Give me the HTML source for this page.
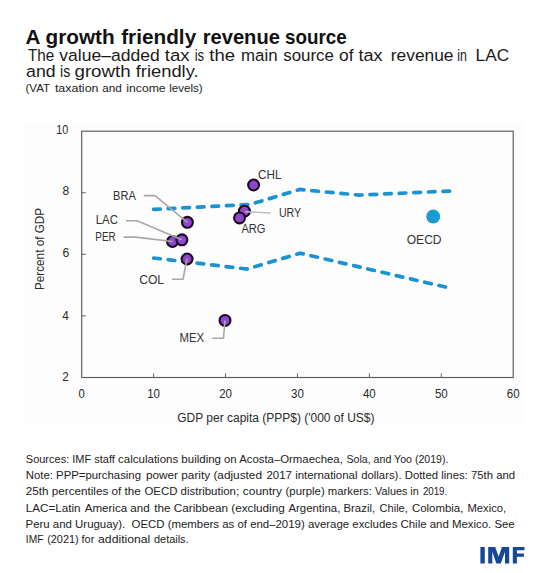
<!DOCTYPE html>
<html><head><meta charset="utf-8"><style>
html,body{margin:0;padding:0;background:#fff;}
body{width:550px;height:573px;overflow:hidden;position:relative;}
svg{position:absolute;left:0;top:0;}
text{font-family:"Liberation Sans", sans-serif;}
</style></head><body>
<svg width="550" height="573" viewBox="0 0 550 573">
<rect x="24" y="122" width="499" height="302" fill="#fdfdfd"/>
<rect x="81.7" y="131.2" width="431.5" height="246.3" fill="none" stroke="#5a5a5a" stroke-width="1.15"/>
<g stroke="#666" stroke-width="1">
<line x1="153.62" y1="377.5" x2="153.62" y2="373.3"/>
<line x1="225.54" y1="377.5" x2="225.54" y2="373.3"/>
<line x1="297.46" y1="377.5" x2="297.46" y2="373.3"/>
<line x1="369.38" y1="377.5" x2="369.38" y2="373.3"/>
<line x1="441.30" y1="377.5" x2="441.30" y2="373.3"/>
<line x1="81.7" y1="315.85" x2="85.9" y2="315.85"/>
<line x1="81.7" y1="254.30" x2="85.9" y2="254.30"/>
<line x1="81.7" y1="192.75" x2="85.9" y2="192.75"/>
</g>
<g fill="none" stroke="#1b93d2" stroke-width="3.7" stroke-dasharray="6.7 7.9" stroke-linecap="round">
<path d="M153.6,209.4 L250,204.5 L299.5,189.5 L359.3,195.1 L451,191"/>
<path d="M153.6,258 L247,269 L300.2,253.2 L446.5,287.3"/>
</g>
<circle cx="433.2" cy="216.6" r="7" fill="#1b9ad6"/>
<g fill="#9045cc" stroke="#1a0b24" stroke-width="2.1">
<circle cx="187.4" cy="222.3" r="5.45"/>
<circle cx="172.5" cy="241.5" r="5.45"/>
<circle cx="181.9" cy="239.8" r="5.45"/>
<circle cx="187.1" cy="259" r="5.45"/>
<circle cx="253.6" cy="185" r="5.45"/>
<circle cx="244.4" cy="211.2" r="5.45"/>
<circle cx="239.5" cy="217.9" r="5.45"/>
<circle cx="225" cy="320.4" r="5.45"/>
</g>
<g fill="none" stroke="#a8a8a8" stroke-width="1.6" stroke-linejoin="round">
<path d="M143.8,195.6 L155,195.6 L187.4,222.3"/>
<path d="M126,220.7 L137,220.7 L181.9,239.8"/>
<path d="M123.6,237.1 L135.5,237.1 L172.5,241.5"/>
<path d="M172,279.3 L183,279.3 L187,258.6"/>
<path d="M212.2,338.3 L223.5,338.3 L225,320.4"/>
<path d="M245.2,211.7 L270.6,213" stroke="#bbb" stroke-width="1.4"/>
</g>
<g fill="#17479a">
<rect x="480.4" y="547" width="4.4" height="16.5"/>
<path d="M488.2,547 L495.2,547 L498.6,556.6 L502,547 L509.2,547 L509.2,563.5 L505,563.5 L505,551.8 L500.8,563.5 L496.4,563.5 L492.3,551.8 L492.3,563.5 L488.2,563.5 Z"/>
<path d="M512.8,547 L524.5,547 L524.5,550.3 L516.9,550.3 L516.9,553.5 L523.9,553.5 L523.9,556.8 L516.9,556.8 L516.9,563.5 L512.8,563.5 Z"/>
</g>

<text id="title_0" x="25.50" y="43.60" font-size="21" fill="#111" font-weight="bold" textLength="14.90" lengthAdjust="spacingAndGlyphs">A</text>
<text id="title_1" x="45.50" y="43.60" font-size="21" fill="#111" font-weight="bold" textLength="69.10" lengthAdjust="spacingAndGlyphs">growth</text>
<text id="title_2" x="121.20" y="43.60" font-size="21" fill="#111" font-weight="bold" textLength="75.00" lengthAdjust="spacingAndGlyphs">friendly</text>
<text id="title_3" x="202.70" y="43.60" font-size="21" fill="#111" font-weight="bold" textLength="77.20" lengthAdjust="spacingAndGlyphs">revenue</text>
<text id="title_4" x="285.00" y="43.60" font-size="21" fill="#111" font-weight="bold" textLength="61.70" lengthAdjust="spacingAndGlyphs">source</text>
<text id="sub1_0" x="28.00" y="60.60" font-size="16.7" fill="#1a1a1a" textLength="26.20" lengthAdjust="spacingAndGlyphs">The</text>
<text id="sub1_1" x="59.30" y="60.60" font-size="16.7" fill="#1a1a1a" textLength="100.40" lengthAdjust="spacingAndGlyphs">value–added</text>
<text id="sub1_2" x="164.80" y="60.60" font-size="16.7" fill="#1a1a1a" textLength="24.80" lengthAdjust="spacingAndGlyphs">tax</text>
<text id="sub1_3" x="194.70" y="60.60" font-size="16.7" fill="#1a1a1a" textLength="9.50" lengthAdjust="spacingAndGlyphs">is</text>
<text id="sub1_4" x="209.30" y="60.60" font-size="16.7" fill="#1a1a1a" textLength="25.70" lengthAdjust="spacingAndGlyphs">the</text>
<text id="sub1_5" x="241.00" y="60.60" font-size="16.7" fill="#1a1a1a" textLength="36.50" lengthAdjust="spacingAndGlyphs">main</text>
<text id="sub1_6" x="283.20" y="60.60" font-size="16.7" fill="#1a1a1a" textLength="50.70" lengthAdjust="spacingAndGlyphs">source</text>
<text id="sub1_7" x="339.00" y="60.60" font-size="16.7" fill="#1a1a1a" textLength="14.50" lengthAdjust="spacingAndGlyphs">of</text>
<text id="sub1_8" x="358.60" y="60.60" font-size="16.7" fill="#1a1a1a" textLength="24.00" lengthAdjust="spacingAndGlyphs">tax</text>
<text id="sub1_9" x="390.80" y="60.60" font-size="16.7" fill="#1a1a1a" textLength="62.70" lengthAdjust="spacingAndGlyphs">revenue</text>
<text id="sub1_10" x="457.30" y="60.60" font-size="16.7" fill="#1a1a1a" textLength="9.60" lengthAdjust="spacingAndGlyphs">in</text>
<text id="sub1_11" x="475.60" y="60.60" font-size="16.7" fill="#1a1a1a" textLength="33.50" lengthAdjust="spacingAndGlyphs">LAC</text>
<text id="sub2_0" x="26.10" y="77.40" font-size="16.7" fill="#1a1a1a" textLength="29.50" lengthAdjust="spacingAndGlyphs">and</text>
<text id="sub2_1" x="60.00" y="77.40" font-size="16.7" fill="#1a1a1a" textLength="10.20" lengthAdjust="spacingAndGlyphs">is</text>
<text id="sub2_2" x="74.50" y="77.40" font-size="16.7" fill="#1a1a1a" textLength="56.10" lengthAdjust="spacingAndGlyphs">growth</text>
<text id="sub2_3" x="135.70" y="77.40" font-size="16.7" fill="#1a1a1a" textLength="62.90" lengthAdjust="spacingAndGlyphs">friendly.</text>
<text id="sub3_0" x="25.50" y="91.50" font-size="11.8" fill="#222" textLength="24.50" lengthAdjust="spacingAndGlyphs">(VAT</text>
<text id="sub3_1" x="54.90" y="91.50" font-size="11.8" fill="#222" textLength="43.60" lengthAdjust="spacingAndGlyphs">taxation</text>
<text id="sub3_2" x="102.30" y="91.50" font-size="11.8" fill="#222" textLength="19.60" lengthAdjust="spacingAndGlyphs">and</text>
<text id="sub3_3" x="126.30" y="91.50" font-size="11.8" fill="#222" textLength="39.30" lengthAdjust="spacingAndGlyphs">income</text>
<text id="sub3_4" x="169.30" y="91.50" font-size="11.8" fill="#222" textLength="33.40" lengthAdjust="spacingAndGlyphs">levels)</text>
<text id="yt10" x="56.20" y="133.80" font-size="13" fill="#2a2a2a" textLength="12.00" lengthAdjust="spacingAndGlyphs">10</text>
<text id="yt8" x="62.40" y="195.40" font-size="13" fill="#2a2a2a" textLength="6.70" lengthAdjust="spacingAndGlyphs">8</text>
<text id="yt6" x="62.50" y="257.10" font-size="13" fill="#2a2a2a" textLength="6.80" lengthAdjust="spacingAndGlyphs">6</text>
<text id="yt4" x="62.20" y="319.60" font-size="13" fill="#2a2a2a" textLength="6.60" lengthAdjust="spacingAndGlyphs">4</text>
<text id="yt2" x="62.20" y="380.80" font-size="13" fill="#2a2a2a" textLength="6.60" lengthAdjust="spacingAndGlyphs">2</text>
<text id="xt0" x="78.55" y="398.30" font-size="13" fill="#2a2a2a" textLength="6.30" lengthAdjust="spacingAndGlyphs">0</text>
<text id="xt10" x="147.22" y="398.30" font-size="13" fill="#2a2a2a" textLength="12.80" lengthAdjust="spacingAndGlyphs">10</text>
<text id="xt20" x="219.14" y="398.30" font-size="13" fill="#2a2a2a" textLength="12.80" lengthAdjust="spacingAndGlyphs">20</text>
<text id="xt30" x="291.06" y="398.30" font-size="13" fill="#2a2a2a" textLength="12.80" lengthAdjust="spacingAndGlyphs">30</text>
<text id="xt40" x="362.98" y="398.30" font-size="13" fill="#2a2a2a" textLength="12.80" lengthAdjust="spacingAndGlyphs">40</text>
<text id="xt50" x="434.90" y="398.30" font-size="13" fill="#2a2a2a" textLength="12.80" lengthAdjust="spacingAndGlyphs">50</text>
<text id="xt60" x="506.82" y="398.30" font-size="13" fill="#2a2a2a" textLength="12.80" lengthAdjust="spacingAndGlyphs">60</text>
<text id="xlab" x="177.30" y="421.80" font-size="12" fill="#2a2a2a" textLength="197.20" lengthAdjust="spacingAndGlyphs">GDP per capita (PPP$) ('000 of US$)</text>
<text id="ylab" x="-290.10" y="43.80" font-size="12" fill="#2a2a2a" textLength="82.30" lengthAdjust="spacingAndGlyphs" transform="rotate(-90)">Percent of GDP</text>
<text id="BRA" x="113.00" y="199.80" font-size="12" fill="#333" textLength="22.80" lengthAdjust="spacingAndGlyphs">BRA</text>
<text id="LAC" x="95.70" y="224.20" font-size="12" fill="#333" textLength="22.20" lengthAdjust="spacingAndGlyphs">LAC</text>
<text id="PER" x="95.30" y="240.70" font-size="12" fill="#333" textLength="20.40" lengthAdjust="spacingAndGlyphs">PER</text>
<text id="COL" x="139.20" y="283.50" font-size="12" fill="#333" textLength="24.90" lengthAdjust="spacingAndGlyphs">COL</text>
<text id="CHL" x="258.00" y="179.00" font-size="12" fill="#333" textLength="23.40" lengthAdjust="spacingAndGlyphs">CHL</text>
<text id="URY" x="278.90" y="217.20" font-size="12" fill="#333" textLength="22.30" lengthAdjust="spacingAndGlyphs">URY</text>
<text id="ARG" x="241.40" y="232.50" font-size="12" fill="#333" textLength="24.10" lengthAdjust="spacingAndGlyphs">ARG</text>
<text id="MEX" x="179.50" y="342.20" font-size="12" fill="#333" textLength="24.70" lengthAdjust="spacingAndGlyphs">MEX</text>
<text id="OECD" x="406.70" y="243.50" font-size="12" fill="#333" textLength="34.90" lengthAdjust="spacingAndGlyphs">OECD</text>
<text id="n1_0" x="25.80" y="463.30" font-size="11.8" fill="#222" textLength="89.00" lengthAdjust="spacingAndGlyphs">Sources: IMF staff</text>
<text id="n1_1" x="118.10" y="463.30" font-size="11.8" fill="#222" textLength="102.90" lengthAdjust="spacingAndGlyphs">calculations building</text>
<text id="n1_2" x="224.00" y="463.30" font-size="11.8" fill="#222" textLength="118.80" lengthAdjust="spacingAndGlyphs">on Acosta–Ormaechea,</text>
<text id="n1_3" x="346.50" y="463.30" font-size="11.8" fill="#222" textLength="102.00" lengthAdjust="spacingAndGlyphs">Sola, and Yoo (2019).</text>
<text id="n2_0" x="25.80" y="479.40" font-size="11.8" fill="#222" textLength="115.20" lengthAdjust="spacingAndGlyphs">Note: PPP=purchasing</text>
<text id="n2_1" x="145.90" y="479.40" font-size="11.8" fill="#222" textLength="116.10" lengthAdjust="spacingAndGlyphs">power parity (adjusted</text>
<text id="n2_2" x="266.50" y="479.40" font-size="11.8" fill="#222" textLength="91.00" lengthAdjust="spacingAndGlyphs">2017 international</text>
<text id="n2_3" x="361.20" y="479.40" font-size="11.8" fill="#222" textLength="153.90" lengthAdjust="spacingAndGlyphs">dollars). Dotted lines: 75th and</text>
<text id="n3_0" x="25.80" y="495.40" font-size="11.8" fill="#222" textLength="114.90" lengthAdjust="spacingAndGlyphs">25th percentiles of the</text>
<text id="n3_1" x="144.40" y="495.40" font-size="11.8" fill="#222" textLength="94.70" lengthAdjust="spacingAndGlyphs">OECD distribution;</text>
<text id="n3_2" x="242.80" y="495.40" font-size="11.8" fill="#222" textLength="39.20" lengthAdjust="spacingAndGlyphs">country</text>
<text id="n3_3" x="285.60" y="495.40" font-size="11.8" fill="#222" textLength="86.30" lengthAdjust="spacingAndGlyphs">(purple) markers:</text>
<text id="n3_4" x="375.10" y="495.40" font-size="11.8" fill="#222" textLength="43.70" lengthAdjust="spacingAndGlyphs">Values in</text>
<text id="n3_5" x="422.90" y="495.40" font-size="11.8" fill="#222" textLength="24.30" lengthAdjust="spacingAndGlyphs">2019.</text>
<text id="n4_0" x="25.80" y="511.60" font-size="11.8" fill="#222" textLength="54.80" lengthAdjust="spacingAndGlyphs">LAC=Latin</text>
<text id="n4_1" x="84.70" y="511.60" font-size="11.8" fill="#222" textLength="65.00" lengthAdjust="spacingAndGlyphs">America and</text>
<text id="n4_2" x="154.20" y="511.60" font-size="11.8" fill="#222" textLength="130.60" lengthAdjust="spacingAndGlyphs">the Caribbean (excluding</text>
<text id="n4_3" x="288.50" y="511.60" font-size="11.8" fill="#222" textLength="86.60" lengthAdjust="spacingAndGlyphs">Argentina, Brazil,</text>
<text id="n4_4" x="379.60" y="511.60" font-size="11.8" fill="#222" textLength="28.20" lengthAdjust="spacingAndGlyphs">Chile,</text>
<text id="n4_5" x="411.90" y="511.60" font-size="11.8" fill="#222" textLength="51.50" lengthAdjust="spacingAndGlyphs">Colombia,</text>
<text id="n4_6" x="467.50" y="511.60" font-size="11.8" fill="#222" textLength="38.60" lengthAdjust="spacingAndGlyphs">Mexico,</text>
<text id="n5" x="25.60" y="527.70" font-size="11.8" fill="#222" textLength="489.10" lengthAdjust="spacingAndGlyphs">Peru and Uruguay).  OECD (members as of end–2019) average excludes Chile and Mexico. See</text>
<text id="n6_0" x="25.80" y="543.40" font-size="11.8" fill="#222" textLength="17.60" lengthAdjust="spacingAndGlyphs">IMF</text>
<text id="n6_1" x="47.20" y="543.40" font-size="11.8" fill="#222" textLength="47.10" lengthAdjust="spacingAndGlyphs">(2021) for</text>
<text id="n6_2" x="98.10" y="543.40" font-size="11.8" fill="#222" textLength="52.20" lengthAdjust="spacingAndGlyphs">additional</text>
<text id="n6_3" x="154.00" y="543.40" font-size="11.8" fill="#222" textLength="34.60" lengthAdjust="spacingAndGlyphs">details.</text>
</svg>
</body></html>
